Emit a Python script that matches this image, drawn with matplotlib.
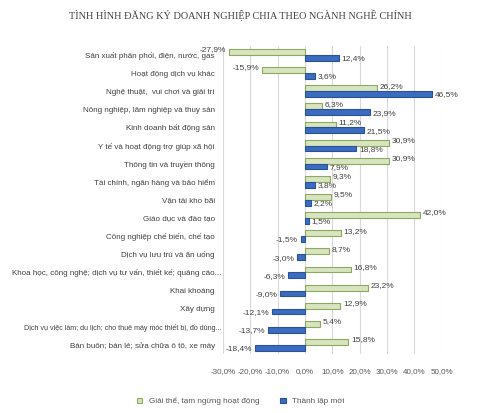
import numpy as np
import matplotlib
matplotlib.use('Agg')
import matplotlib.pyplot as plt
import matplotlib.transforms as mtransforms
from matplotlib.ticker import FuncFormatter

plt.rcParams['font.family'] = ['Liberation Sans Narrow', 'Liberation Sans', 'DejaVu Sans']

# Data (top to bottom)
categories = [
    'Sản xuất phân phối, điện, nước, gas',
    'Hoạt động dịch vụ khác',
    'Nghệ thuật,  vui chơi và giải trí',
    'Nông nghiệp, lâm nghiệp và thuỷ sản',
    'Kinh doanh bất động sản',
    'Y tế và hoạt động trợ giúp xã hội',
    'Thông tin và truyền thông',
    'Tài chính, ngân hàng và bảo hiểm',
    'Vận tải kho bãi',
    'Giáo dục và đào tạo',
    'Công nghiệp chế biến, chế tạo',
    'Dịch vụ lưu trú và ăn uống',
    'Khoa học, công nghệ; dịch vụ tư vấn, thiết kế; quảng cáo...',
    'Khai khoáng',
    'Xây dựng',
    'Dịch vụ việc làm; du lịch; cho thuê máy móc thiết bị, đồ dùng...',
    'Bán buôn; bán lẻ; sửa chữa ô tô, xe máy',
]
giai_the = [-27.9, -15.9, 26.2, 6.3, 11.2, 30.9, 30.9, 9.3, 9.5, 42.0,
            13.2, 8.7, 16.8, 23.2, 12.9, 5.4, 15.8]
thanh_lap = [12.4, 3.6, 46.5, 23.9, 21.5, 18.8, 7.9, 3.8, 2.2, 1.5,
             -1.5, -3.0, -6.3, -9.0, -12.1, -13.7, -18.4]
xticks = [-30, -20, -10, 0, 10, 20, 30, 40, 50]

def pct(v):
    return ('%.1f%%' % v).replace('.', ',')

fig = plt.figure(figsize=(4.81, 4.13), dpi=100)
ax = fig.add_axes([0.4636, 0.143, 0.4544, 0.746])

y = np.arange(len(categories))
h = 0.32
ax.barh(y - h / 2, giai_the, height=h, color='#d8e4bf', edgecolor='#8fa860',
        linewidth=0.8, label='Giải thể, tạm ngừng hoạt động', zorder=3)
ax.barh(y + h / 2, thanh_lap, height=h, color='#3b6cbf', edgecolor='#2a5296',
        linewidth=0.8, label='Thành lập mới', zorder=3)

for i in range(len(categories)):
    for v, yy in ((giai_the[i], y[i] - h / 2 - 0.12), (thanh_lap[i], y[i] + h / 2 + 0.05)):
        if v >= 0:
            ax.text(v + 1.0, yy, pct(v), ha='left', va='center', fontsize=6, color='#404040')
        else:
            ax.text(v - 1.0, yy, pct(v), ha='right', va='center', fontsize=6, color='#404040')

ax.set_xlim(-30, 50)
ax.set_ylim(len(categories) - 0.5, -0.5)
ax.set_xticks(xticks)
ax.xaxis.set_major_formatter(FuncFormatter(lambda v, p: pct(v)))
ax.set_yticks(y)
ax.set_yticklabels(categories, fontsize=5.75, color='#404040')
ax.tick_params(axis='both', length=0)
ax.tick_params(axis='x', labelsize=5.8, labelcolor='#595959', pad=10)
ax.tick_params(axis='y', pad=6)
ax.grid(axis='x', color='#d9d9d9', linewidth=0.8, zorder=0)
for s in ax.spines.values():
    s.set_visible(False)

# the two long labels run a little past the others, as in the original
shift = mtransforms.ScaledTranslation(7 / 100, 0, fig.dpi_scale_trans)
labels = ax.get_yticklabels()
for idx in (12, 15):
    labels[idx].set_transform(labels[idx].get_transform() + shift)
labels[15].set_fontsize(5.15)

fig.text(0.5, 0.963, 'TÌNH HÌNH ĐĂNG KÝ DOANH NGHIỆP CHIA THEO NGÀNH NGHỀ CHÍNH',
         ha='center', va='center', fontsize=7.4, family='Liberation Serif', color='#404040')

fig.legend(loc='center', bbox_to_anchor=(0.5, 0.028), ncol=2, frameon=False,
           fontsize=5.9, handlelength=0.7, handleheight=0.7, columnspacing=2.5,
           labelcolor='#595959')

fig.savefig('out.png', dpi=100)
